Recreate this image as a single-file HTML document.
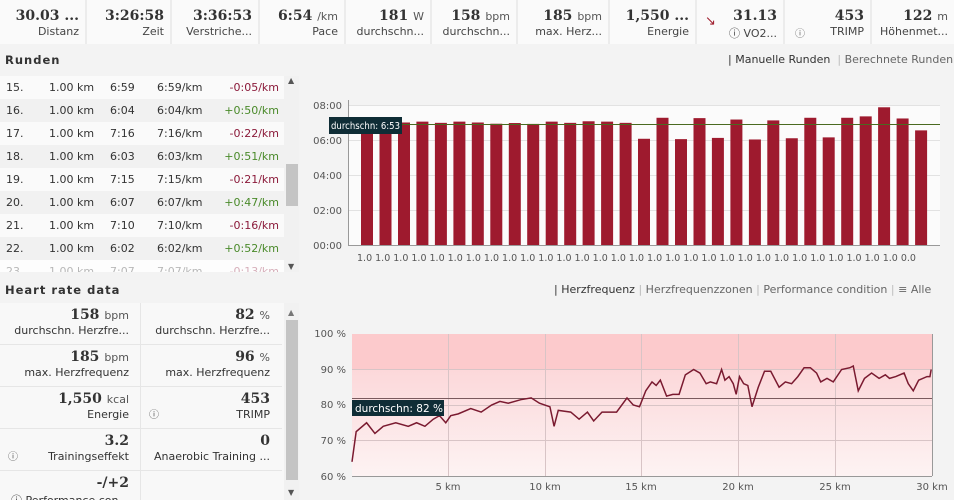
<!DOCTYPE html>
<html><head><meta charset="utf-8"><style>
*{margin:0;padding:0;box-sizing:border-box}
body{width:954px;height:500px;overflow:hidden;background:#f3f3f3;font-family:"DejaVu Sans",Verdana,sans-serif;color:#333;position:relative}
.hdr{position:absolute;left:0;top:0;width:954px;height:44px;background:#f0f0f0}
.c{position:absolute;top:0;height:44px;background:#fafafa;border-right:2px solid #ececec;text-align:right;padding-right:6px}
.c b{display:block;font-family:"DejaVu Serif","Liberation Serif",serif;font-size:14px;font-weight:bold;margin-top:8px;color:#333;white-space:nowrap}
.c b span{font-family:"DejaVu Sans",sans-serif;font-weight:normal;font-size:11px;color:#555}
.c i{display:block;font-style:normal;font-size:11px;color:#444;margin-top:1px;white-space:nowrap}
.t{position:absolute;font-size:11px;white-space:nowrap}
h3{position:absolute;font-size:11.5px;font-weight:bold;letter-spacing:1px;color:#333}
.row{position:absolute;left:0;width:284px;height:23px;font-size:11px}
.row span{position:absolute;top:5px}
.neg{color:#8b1a3a}.pos{color:#4a8a2a}
.hc{position:absolute;width:141px;height:42px;border-bottom:1px solid #e6e6e6;text-align:right;padding-right:12px}
.hc b{display:block;font-family:"DejaVu Serif",serif;font-size:14px;margin-top:4px;color:#333}
.hc b span{font-family:"DejaVu Sans",sans-serif;font-weight:normal;font-size:11px;color:#555}
.hc i{display:block;font-style:normal;font-size:11px;margin-top:1px;white-space:nowrap}
.q{position:absolute;left:8px;bottom:7px;font-size:10px;color:#555}
</style></head><body>
<div class="hdr">
<div class="c" style="left:0;width:87px"><b>30.03 ...</b><i>Distanz</i></div>
<div class="c" style="left:87px;width:85px"><b>3:26:58</b><i>Zeit</i></div>
<div class="c" style="left:172px;width:88px"><b>3:36:53</b><i>Verstriche...</i></div>
<div class="c" style="left:260px;width:86px"><b>6:54 <span>/km</span></b><i>Pace</i></div>
<div class="c" style="left:346px;width:86px"><b>181 <span>W</span></b><i>durchschn...</i></div>
<div class="c" style="left:432px;width:86px"><b>158 <span>bpm</span></b><i>durchschn...</i></div>
<div class="c" style="left:518px;width:92px"><b>185 <span>bpm</span></b><i>max. Herz...</i></div>
<div class="c" style="left:610px;width:87px"><b>1,550 ...</b><i>Energie</i></div>
<div class="c" style="left:697px;width:88px"><b>31.13</b><i>ⓘ VO2...</i><span style="position:absolute;left:8px;top:14px;color:#a02030;font-size:13px">↘</span></div>
<div class="c" style="left:785px;width:87px"><b>453</b><i>TRIMP</i><span style="position:absolute;left:10px;top:25px;font-size:10px;color:#666">ⓘ</span></div>
<div class="c" style="left:872px;width:82px;border:none"><b>122 <span>m</span></b><i>Höhenmet...</i></div>
</div>
<h3 style="left:5px;top:53px">Runden</h3>
<div class="t" style="left:728px;top:53px;font-size:11px;color:#333"><span style="color:#333">|</span> Manuelle Runden <span style="color:#bbb">&nbsp;|</span> <span style="color:#666">Berechnete Runden</span></div>
<div style="position:absolute;left:0;top:76px;width:284px;height:196px;overflow:hidden;background:#fff">
<div class="row" style="top:0;background:#fafafa"><span style="left:6px">15.</span><span style="left:49px">1.00 km</span><span style="left:110px">6:59</span><span style="left:157px">6:59/km</span><span style="right:5px" class="neg">-0:05/km</span></div>
<div class="row" style="top:23px;background:#f1f1f1"><span style="left:6px">16.</span><span style="left:49px">1.00 km</span><span style="left:110px">6:04</span><span style="left:157px">6:04/km</span><span style="right:5px" class="pos">+0:50/km</span></div>
<div class="row" style="top:46px;background:#fafafa"><span style="left:6px">17.</span><span style="left:49px">1.00 km</span><span style="left:110px">7:16</span><span style="left:157px">7:16/km</span><span style="right:5px" class="neg">-0:22/km</span></div>
<div class="row" style="top:69px;background:#f1f1f1"><span style="left:6px">18.</span><span style="left:49px">1.00 km</span><span style="left:110px">6:03</span><span style="left:157px">6:03/km</span><span style="right:5px" class="pos">+0:51/km</span></div>
<div class="row" style="top:92px;background:#fafafa"><span style="left:6px">19.</span><span style="left:49px">1.00 km</span><span style="left:110px">7:15</span><span style="left:157px">7:15/km</span><span style="right:5px" class="neg">-0:21/km</span></div>
<div class="row" style="top:115px;background:#f1f1f1"><span style="left:6px">20.</span><span style="left:49px">1.00 km</span><span style="left:110px">6:07</span><span style="left:157px">6:07/km</span><span style="right:5px" class="pos">+0:47/km</span></div>
<div class="row" style="top:138px;background:#fafafa"><span style="left:6px">21.</span><span style="left:49px">1.00 km</span><span style="left:110px">7:10</span><span style="left:157px">7:10/km</span><span style="right:5px" class="neg">-0:16/km</span></div>
<div class="row" style="top:161px;background:#f1f1f1"><span style="left:6px">22.</span><span style="left:49px">1.00 km</span><span style="left:110px">6:02</span><span style="left:157px">6:02/km</span><span style="right:5px" class="pos">+0:52/km</span></div>
<div class="row" style="top:184px;background:#fafafa;opacity:.35"><span style="left:6px">23.</span><span style="left:49px">1.00 km</span><span style="left:110px">7:07</span><span style="left:157px">7:07/km</span><span style="right:5px" class="neg">-0:13/km</span></div>
</div>
<div style="position:absolute;left:284px;top:76px;width:15px;height:196px;background:#f1f1f1"></div>
<div style="position:absolute;left:286px;top:164px;width:12px;height:42px;background:#c4c4c4"></div>
<div class="t" style="left:288px;top:76px;font-size:8px;color:#555">▲</div>
<div class="t" style="left:288px;top:262px;font-size:8px;color:#555">▼</div>

<svg style="position:absolute;left:0;top:0" width="954" height="500">
<g font-family="DejaVu Sans,sans-serif" font-size="10" fill="#555">
<rect x="348" y="105" width="592" height="140" fill="#fbfbfb"/>
<g stroke="#e2e2e2" stroke-width="1">
<line x1="348" x2="940" y1="105.5" y2="105.5"/><line x1="348" x2="940" y1="140.5" y2="140.5"/><line x1="348" x2="940" y1="175.5" y2="175.5"/><line x1="348" x2="940" y1="210.5" y2="210.5"/>
</g>
<line x1="348.5" x2="348.5" y1="100" y2="245" stroke="#999"/>
<line x1="348" x2="940" y1="245.5" y2="245.5" stroke="#999"/>
<text x="342" y="109" text-anchor="end">08:00</text><text x="342" y="144" text-anchor="end">06:00</text><text x="342" y="179" text-anchor="end">04:00</text><text x="342" y="214" text-anchor="end">02:00</text><text x="342" y="249" text-anchor="end">00:00</text>
<g transform="translate(0,245) scale(1,-17.5)" fill="#9e1a2e">
<rect x="361" width="12" height="7.0"/><rect x="379.5" width="12" height="7.0"/><rect x="398" width="12" height="7.0"/><rect x="416.4" width="12" height="7.05"/><rect x="434.9" width="12" height="6.98"/><rect x="453.4" width="12" height="7.05"/><rect x="471.8" width="12" height="7.0"/><rect x="490.3" width="12" height="6.93"/><rect x="508.8" width="12" height="6.97"/><rect x="527.2" width="12" height="6.92"/><rect x="545.7" width="12" height="7.05"/><rect x="564.2" width="12" height="6.98"/><rect x="582.6" width="12" height="7.07"/><rect x="601.1" width="12" height="7.05"/><rect x="619.6" width="12" height="6.98"/><rect x="638" width="12" height="6.07"/><rect x="656.5" width="12" height="7.27"/><rect x="675" width="12" height="6.05"/><rect x="693.5" width="12" height="7.25"/><rect x="711.9" width="12" height="6.12"/><rect x="730.4" width="12" height="7.17"/><rect x="748.9" width="12" height="6.03"/><rect x="767.3" width="12" height="7.12"/><rect x="785.8" width="12" height="6.1"/><rect x="804.3" width="12" height="7.27"/><rect x="822.7" width="12" height="6.15"/><rect x="841.2" width="12" height="7.27"/><rect x="859.7" width="12" height="7.35"/><rect x="878.1" width="12" height="7.87"/><rect x="896.6" width="12" height="7.23"/><rect x="915.1" width="12" height="6.55"/>
</g>
<line x1="348" x2="940" y1="124.5" y2="124.5" stroke="#4a6a20"/>
<rect x="329" y="117" width="73" height="17" fill="#0f2d36"/>
<text x="331" y="129" fill="#fff" font-size="9.5" textLength="69" lengthAdjust="spacingAndGlyphs">durchschn: 6:53</text>
<text x="357" y="261" font-size="9.5">1.0 1.0 1.0 1.0 1.0 1.0 1.0 1.0 1.0 1.0 1.0 1.0 1.0 1.0 1.0 1.0 1.0 1.0 1.0 1.0 1.0 1.0 1.0 1.0 1.0 1.0 1.0 1.0 1.0 1.0 0.0</text>
</g>

<defs><linearGradient id="g" x1="0" y1="0" x2="0" y2="1"><stop offset="0" stop-color="#fcd8da"/><stop offset="1" stop-color="#fdf3f3"/></linearGradient></defs>
<g font-family="DejaVu Sans,sans-serif" font-size="10" fill="#555">
<rect x="352" y="334" width="580" height="36" fill="#fccacc"/>
<rect x="352" y="370" width="580" height="106" fill="url(#g)"/>
<g stroke="#d8c4c6">
<line x1="352" x2="932" y1="369.5" y2="369.5"/><line x1="352" x2="932" y1="405.5" y2="405.5"/><line x1="352" x2="932" y1="440.5" y2="440.5"/>
<line x1="448.5" x2="448.5" y1="334" y2="476"/><line x1="545.5" x2="545.5" y1="334" y2="476"/><line x1="641.5" x2="641.5" y1="334" y2="476"/><line x1="738.5" x2="738.5" y1="334" y2="476"/><line x1="835.5" x2="835.5" y1="334" y2="476"/>
</g>
<line x1="352" x2="932" y1="476.5" y2="476.5" stroke="#999"/>
<line x1="932.5" x2="932.5" y1="334" y2="476" stroke="#999"/>
<text x="346" y="337" text-anchor="end">100 %</text><text x="346" y="373" text-anchor="end">90 %</text><text x="346" y="408" text-anchor="end">80 %</text><text x="346" y="444" text-anchor="end">70 %</text><text x="346" y="480" text-anchor="end">60 %</text>
<text x="448" y="490" text-anchor="middle">5 km</text><text x="545" y="490" text-anchor="middle">10 km</text><text x="641" y="490" text-anchor="middle">15 km</text><text x="738" y="490" text-anchor="middle">20 km</text><text x="835" y="490" text-anchor="middle">25 km</text><text x="932" y="490" text-anchor="middle">30 km</text>
<line x1="352" x2="932" y1="398.5" y2="398.5" stroke="#7a5a5e"/>
<polyline transform="translate(299.92,689) scale(0.41667,-3.55)" vector-effect="non-scaling-stroke" fill="none" stroke="#7a1a30" stroke-width="1.5" points="125,64 135,72.5 160,75 180,72 200,74 230,75 260,74 280,75 300,74 320,76 335,77 350,75 362,77 380,77.5 410,79 435,78 460,80 480,81 500,80.5 530,81.5 555,82 575,80.5 600,79.5 610,74 620,78.5 650,78 670,76 690,78 705,75.5 725,78 760,78 785,82 800,80 815,79.5 830,84 845,86.5 855,85.5 865,87 880,82.5 895,83 910,83 925,88.5 945,90 960,89 975,86 985,86.5 1000,86 1012,90 1020,87 1030,88 1040,86 1047,83 1055,88 1065,86 1075,85.5 1085,79.5 1100,85 1115,89.5 1130,89.5 1150,85 1165,86.5 1180,86 1195,88 1210,90.5 1225,90.5 1240,89 1250,86.5 1265,87.5 1280,86.5 1300,90 1320,90.5 1328,91 1340,84 1355,87.5 1372,89 1390,87.5 1405,88.5 1415,87.5 1430,88 1450,89 1460,86 1472,84 1485,87 1505,88 1512,88 1515,90"/>
<rect x="352" y="400" width="92" height="16" fill="#0f2d36"/>
<text x="355" y="412" fill="#fff" font-size="10.5">durchschn: 82 %</text>
</g>
</svg>

<h3 style="left:5px;top:283px">Heart rate data</h3>
<div class="t" style="left:554px;top:283px;font-size:11px;color:#666"><span style="color:#333">|</span> <span style="color:#333">Herzfrequenz</span> <span style="color:#bbb">|</span> Herzfrequenzzonen <span style="color:#bbb">|</span> Performance condition <span style="color:#bbb">|</span> ≡ Alle</div>
<div style="position:absolute;left:0;top:303px;width:284px;height:197px;background:#f8f8f8;overflow:hidden">
<div style="position:absolute;left:140px;top:0;width:1px;height:197px;background:#e6e6e6"></div>
<div class="hc" style="left:0;top:0"><b>158 <span>bpm</span></b><i>durchschn. Herzfre...</i></div>
<div class="hc" style="left:141px;top:0"><b>82 <span>%</span></b><i>durchschn. Herzfre...</i></div>
<div class="hc" style="left:0;top:42px"><b>185 <span>bpm</span></b><i>max. Herzfrequenz</i></div>
<div class="hc" style="left:141px;top:42px"><b>96 <span>%</span></b><i>max. Herzfrequenz</i></div>
<div class="hc" style="left:0;top:84px"><b>1,550 <span>kcal</span></b><i>Energie</i></div>
<div class="hc" style="left:141px;top:84px"><b>453</b><i>TRIMP</i><span class="q">ⓘ</span></div>
<div class="hc" style="left:0;top:126px"><b>3.2</b><i>Trainingseffekt</i><span class="q">ⓘ</span></div>
<div class="hc" style="left:141px;top:126px"><b>0</b><i>Anaerobic Training ...</i></div>
<div class="hc" style="left:0;top:168px"><b>-/+2</b><i>ⓘ Performance con...</i></div>
</div>
<div style="position:absolute;left:284px;top:303px;width:15px;height:197px;background:#f1f1f1"></div>
<div style="position:absolute;left:286px;top:320px;width:12px;height:160px;background:#c4c4c4"></div>
<div class="t" style="left:288px;top:308px;font-size:8px;color:#777">▲</div>
<div class="t" style="left:288px;top:488px;font-size:8px;color:#555">▼</div>
</body></html>
